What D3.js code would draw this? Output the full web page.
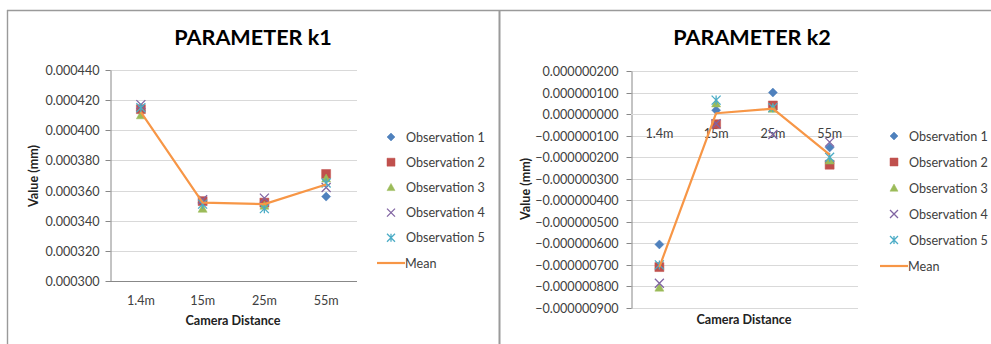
<!DOCTYPE html>
<html>
<head>
<meta charset="utf-8">
<script src="https://cdn.jsdelivr.net/npm/d3@7"></script>
<style>
  html, body { margin: 0; padding: 0; background: #fff; }
  svg { display: block; font-family: Lato, "Open Sans", sans-serif; }
</style>
</head>
<body>
<svg id="chart" width="991" height="344"></svg>
<script>
// ---------- DATA ----------
const categories = ["1.4m", "15m", "25m", "55m"];
const seriesNames = ["Observation 1", "Observation 2", "Observation 3", "Observation 4", "Observation 5", "Mean"];

// PARAMETER k1
const k1Obs1 = [0.000413, 0.000352, 0.000351, 0.000356];
const k1Obs2 = [0.000414, 0.000353, 0.000352, 0.000371];
const k1Obs3 = [0.000410, 0.000348, 0.000350, 0.000368];
const k1Obs4 = [0.000417, 0.000354, 0.000355, 0.000362];
const k1Obs5 = [0.000415, 0.000351, 0.000348, 0.000365];
const k1Mean = [0.000412, 0.000352, 0.000351, 0.000364];
const k1Ticks = [0.000300, 0.000320, 0.000340, 0.000360, 0.000380, 0.000400, 0.000420, 0.000440];

// PARAMETER k2
const k2Obs1 = [-0.000000605, 0.000000018, 0.000000100, -0.000000155];
const k2Obs2 = [-0.000000710, -0.000000047, 0.000000040, -0.000000235];
const k2Obs3 = [-0.000000805, 0.000000050, 0.000000025, -0.000000215];
const k2Obs4 = [-0.000000785, -0.000000045, -0.000000095, -0.000000130];
const k2Obs5 = [-0.000000700, 0.000000065, 0.000000030, -0.000000200];
const k2Mean = [-0.000000710, 0.000000004, 0.000000025, -0.000000188];
const k2Ticks = [-0.0000009, -0.0000008, -0.0000007, -0.0000006, -0.0000005, -0.0000004,
                 -0.0000003, -0.0000002, -0.0000001, 0, 0.0000001, 0.0000002];

// ---------- STYLE ----------
const colors = ["#4F81BD", "#C0504D", "#9BBB59", "#8064A2", "#4BACC6", "#F79646"];
const shapes = ["diamond", "square", "triangle", "x", "star"];
const FS = 12.6;

const svg = d3.select("#chart");

// panel frames
svg.append("line").attr("x1", 7).attr("x2", 991).attr("y1", 10.5).attr("y2", 10.5)
  .attr("stroke", "#9a9a9a").attr("stroke-width", 1.6);
svg.append("line").attr("x1", 7.5).attr("x2", 7.5).attr("y1", 10).attr("y2", 344)
  .attr("stroke", "#9a9a9a").attr("stroke-width", 1.4);
svg.append("line").attr("x1", 499.5).attr("x2", 499.5).attr("y1", 10).attr("y2", 344)
  .attr("stroke", "#9a9a9a").attr("stroke-width", 2);

function markerPath(shape, s) {
  const h = s / 2;
  const p = d3.path();
  if (shape === "diamond") {
    p.moveTo(0, -h); p.lineTo(h, 0); p.lineTo(0, h); p.lineTo(-h, 0); p.closePath();
  } else if (shape === "square") {
    p.rect(-h, -h, s, s);
  } else if (shape === "triangle") {
    p.moveTo(0, -h); p.lineTo(h, h * 0.8); p.lineTo(-h, h * 0.8); p.closePath();
  } else if (shape === "x") {
    p.moveTo(-h, -h); p.lineTo(h, h); p.moveTo(h, -h); p.lineTo(-h, h);
  } else if (shape === "star") {
    p.moveTo(-h, -h); p.lineTo(h, h); p.moveTo(h, -h); p.lineTo(-h, h);
    p.moveTo(0, -h); p.lineTo(0, h);
  }
  return p.toString();
}

function drawMarker(g, shape, color, x, y, size) {
  const stroke = (shape === "x" || shape === "star");
  g.append("path")
    .attr("transform", `translate(${x},${y})`)
    .attr("d", markerPath(shape, size))
    .attr("fill", stroke ? "none" : color)
    .attr("stroke", color)
    .attr("stroke-width", stroke ? 1.3 : 0.5);
}

function drawChart(cfg) {
  const g = svg.append("g");
  const x = d3.scaleBand().domain(categories).range([cfg.left, cfg.right]);
  const y = d3.scaleLinear().domain(cfg.domain).range([cfg.bottom, cfg.top]);
  const cx = c => x(c) + x.bandwidth() / 2;

  // title
  g.append("text").attr("x", cfg.titleX).attr("y", 45)
    .attr("text-anchor", "middle").attr("font-size", 21.6).attr("font-weight", 700)
    .attr("fill", "#000").text(cfg.title);

  // gridlines
  g.append("g").selectAll("line").data(cfg.ticks).join("line")
    .attr("x1", cfg.left).attr("x2", cfg.right)
    .attr("y1", d => Math.round(y(d)) + 0.5).attr("y2", d => Math.round(y(d)) + 0.5)
    .attr("stroke", "#d9d9d9").attr("stroke-width", 1);

  // y axis
  const yAxis = d3.axisLeft(y).tickValues(cfg.ticks).tickFormat(d3.format(cfg.fmt))
    .tickSize(5).tickSizeOuter(0).tickPadding(cfg.tickPad);
  const ya = g.append("g").attr("transform", `translate(${cfg.left + 0.5},0)`).call(yAxis);
  ya.select(".domain").attr("stroke", "#888");
  ya.selectAll(".tick line").attr("stroke", "#888");
  ya.selectAll(".tick text").attr("font-size", FS).attr("fill", "#404040")
    .attr("font-family", "Lato, 'Open Sans', sans-serif");
  ya.selectAll(".tick").attr("transform", d => `translate(0,${Math.round(y(d)) + 0.5})`);

  // x axis (crosses at cfg.xCross)
  const xCrossY = Math.round(y(cfg.xCross)) + 0.5;
  g.append("line").attr("x1", cfg.left).attr("x2", cfg.right)
    .attr("y1", xCrossY).attr("y2", xCrossY).attr("stroke", cfg.xAxisColor);
  g.append("g").selectAll("text").data(categories).join("text")
    .attr("x", d => cx(d)).attr("y", xCrossY + 23)
    .attr("text-anchor", "middle").attr("font-size", FS).attr("fill", "#404040")
    .text(d => d);

  // axis titles
  g.append("text").attr("x", cfg.xTitleX).attr("y", cfg.xTitleY)
    .attr("text-anchor", "middle").attr("font-size", FS).attr("font-weight", 700)
    .attr("fill", "#222").text("Camera Distance");
  g.append("text")
    .attr("transform", `translate(${cfg.yTitleX},${cfg.yTitleY}) rotate(-90)`)
    .attr("text-anchor", "middle").attr("font-size", FS).attr("font-weight", 700)
    .attr("fill", "#222").text("Value (mm)");

  // markers
  cfg.obs.forEach((arr, i) => {
    const mg = g.append("g");
    arr.forEach((v, j) => {
      drawMarker(mg, shapes[i], colors[i], cx(categories[j]), y(v), 9);
    });
  });

  // mean line
  const line = d3.line().x((d, j) => cx(categories[j])).y(d => y(d));
  g.append("path").datum(cfg.mean).attr("d", line)
    .attr("fill", "none").attr("stroke", colors[5]).attr("stroke-width", 2.2)
    .attr("stroke-linejoin", "round");

  // legend
  const lg = g.append("g");
  seriesNames.forEach((name, i) => {
    const ly = cfg.legendY + i * cfg.legendStep;
    if (i < 5) {
      drawMarker(lg, shapes[i], colors[i], cfg.legendX, ly, 8);
    } else {
      lg.append("line").attr("x1", cfg.legendX - 14).attr("x2", cfg.legendX + 14)
        .attr("y1", ly).attr("y2", ly).attr("stroke", colors[5]).attr("stroke-width", 2.2);
    }
    lg.append("text").attr("x", i < 5 ? cfg.legendX + 15 : cfg.legendX + 14)
      .attr("y", ly + 4.5).attr("font-size", FS).attr("fill", "#404040").text(name);
  });
}

drawChart({
  title: "PARAMETER k1", titleX: 253,
  left: 110, right: 357, top: 70, bottom: 281,
  domain: [0.000300, 0.000440], ticks: k1Ticks, fmt: ".6f", tickPad: 6,
  xCross: 0.000300, xAxisColor: "#888",
  obs: [k1Obs1, k1Obs2, k1Obs3, k1Obs4, k1Obs5], mean: k1Mean,
  xTitleX: 233, xTitleY: 325, yTitleX: 38, yTitleY: 176,
  legendX: 391, legendY: 137, legendStep: 25.2
});

drawChart({
  title: "PARAMETER k2", titleX: 752,
  left: 631, right: 858, top: 71, bottom: 308,
  domain: [-0.0000009, 0.0000002], ticks: k2Ticks, fmt: ".9f", tickPad: 8,
  xCross: 0, xAxisColor: "#d9d9d9",
  obs: [k2Obs1, k2Obs2, k2Obs3, k2Obs4, k2Obs5], mean: k2Mean,
  xTitleX: 744, xTitleY: 324, yTitleX: 530, yTitleY: 189,
  legendX: 894, legendY: 136, legendStep: 26
});
</script>
</body>
</html>
